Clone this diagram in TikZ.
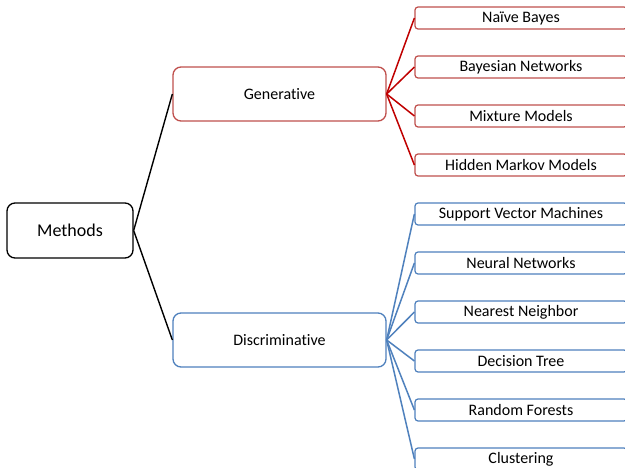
\documentclass[tikz,border=0pt]{standalone}
\usepackage{fontspec}
\setmainfont[Ligatures={NoCommon,NoRare,NoContextual}]{Carlito}
\definecolor{genred}{HTML}{C0504D}
\definecolor{linered}{HTML}{C00000}
\definecolor{disblue}{HTML}{4F81BD}
\begin{document}
\begin{tikzpicture}[x=1pt,y=-1pt,
  rootbox/.style={draw=black,line width=1.3pt,rounded corners=8pt,minimum width=126pt,minimum height=55pt,inner sep=0pt,font=\fontsize{18}{20}\selectfont,fill=white},
  midbox/.style={line width=1.3pt,rounded corners=8pt,minimum width=213pt,minimum height=54pt,inner sep=0pt,font=\fontsize{16}{18}\selectfont,fill=white},
  leafbox/.style={line width=1.2pt,rounded corners=3pt,minimum width=212pt,minimum height=22pt,inner sep=0pt,font=\fontsize{16}{18}\selectfont,fill=white},
  rootline/.style={draw=black,line width=1.4pt},
  redline/.style={draw=linered,line width=1.5pt},
  blueline/.style={draw=disblue,line width=1.5pt}]
\useasboundingbox (0,0) rectangle (625,468);
\clip (0,0) rectangle (625,468);
\fill[white] (0,0) rectangle (625,468);

\node[rootbox] (m) at (70,230.5) {Methods};
\node[midbox,draw=genred] (g) at (279.5,94) {Generative};
\node[midbox,draw=disblue] (d) at (279.5,340) {Discriminative};

\node[leafbox,draw=genred] (g1) at (521,18) {Naïve Bayes};
\node[leafbox,draw=genred] (g2) at (521,67) {Bayesian Networks};
\node[leafbox,draw=genred] (g3) at (521,116) {Mixture Models};
\node[leafbox,draw=genred] (g4) at (521,165) {Hidden Markov Models};

\node[leafbox,draw=disblue] (d1) at (521,214) {Support Vector Machines};
\node[leafbox,draw=disblue] (d2) at (521,263) {Neural Networks};
\node[leafbox,draw=disblue] (d3) at (521,312) {Nearest Neighbor};
\node[leafbox,draw=disblue] (d4) at (521,361) {Decision Tree};
\node[leafbox,draw=disblue] (d5) at (521,410) {Random Forests};
\node[leafbox,draw=disblue] (d6) at (521,459) {Clustering};

\draw[rootline] (m.east) -- (g.west);
\draw[rootline] (m.east) -- (d.west);
\foreach \n in {g1,g2,g3,g4} \draw[redline] (g.east) -- (\n.west);
\foreach \n in {d1,d2,d3,d4,d5,d6} \draw[blueline] (d.east) -- (\n.west);
\end{tikzpicture}
\end{document}
